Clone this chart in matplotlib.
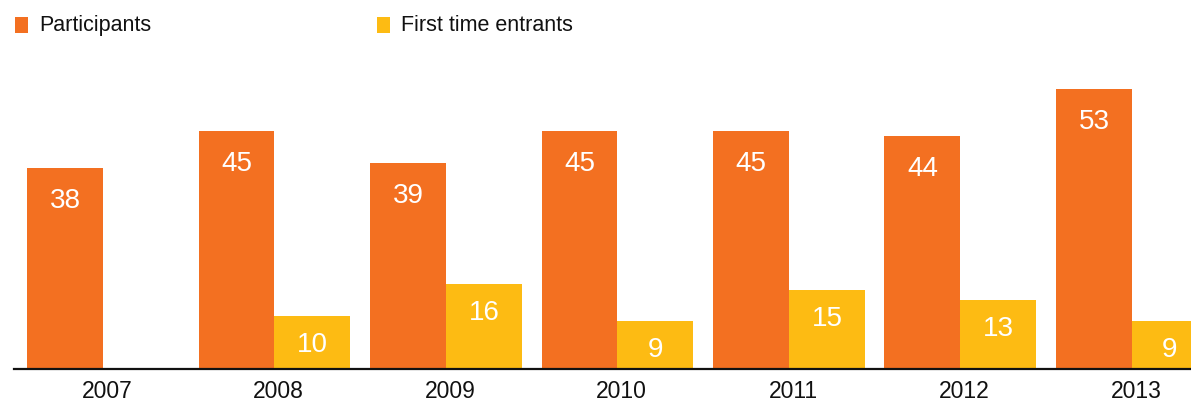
import numpy as np
import matplotlib.pyplot as plt
from matplotlib.patches import Rectangle

plt.rcParams['font.family'] = ['Liberation Sans', 'DejaVu Sans']

# Data
years = ['2007', '2008', '2009', '2010', '2011', '2012', '2013']
participants = [38, 45, 39, 45, 45, 44, 53]
first_time = [None, 10, 16, 9, 15, 13, 9]

orange = '#F37021'
yellow = '#FDBB13'

W, H = 1191, 403
fig = plt.figure(figsize=(W / 100, H / 100), dpi=100)

# axes placement in pixels
ax_left, ax_right, ax_base, ax_top = 14, 1191, 369, 60
ax = fig.add_axes([ax_left / W, (H - ax_base) / H,
                   (ax_right - ax_left) / W, (ax_base - ax_top) / H])

x = np.arange(len(years))
bw = 0.443
step = 171.4  # pixels per group
ppu = 5.29    # pixels per unit of value

ax.bar(x - bw / 2, participants, width=bw, color=orange, linewidth=0)
ft_vals = [v if v is not None else 0 for v in first_time]
ax.bar(x + bw / 2, ft_vals, width=bw, color=yellow, linewidth=0)

ax.set_ylim(0, (ax_base - ax_top) / ppu)
ax.set_xlim(-bw - 13 / step, 6 + (1191 - 1132) / step)

# value labels inside bars, near the top
for xi, v in zip(x, participants):
    ax.text(xi - bw / 2, v - 33 / ppu, str(v), ha='center', va='center',
            color='white', fontsize=20)
for xi, v in zip(x, first_time):
    if v is None:
        continue
    ax.text(xi + bw / 2, v - 29 / ppu, str(v), ha='center', va='center',
            color='white', fontsize=20)

for side in ['left', 'right', 'top']:
    ax.spines[side].set_visible(False)
ax.spines['bottom'].set_linewidth(1.6)
ax.spines['bottom'].set_color('#111111')
ax.set_yticks([])
ax.set_xticks(x + 4 / step)
ax.set_xticklabels(years, fontsize=16.5, color='#111111')
ax.tick_params(axis='x', length=0, pad=8)

# legend drawn by hand
def legend_item(px, label, color):
    fig.patches.append(Rectangle((px / W, (H - 33) / H), 13 / W, 16 / H,
                                 transform=fig.transFigure, color=color,
                                 linewidth=0))
    fig.text((px + 24) / W, (H - 25.5) / H, label, fontsize=15.5,
             va='center', ha='left', color='#111111')

legend_item(15, 'Participants', orange)
legend_item(377, 'First time entrants', yellow)

fig.savefig('out.png', dpi=100)
